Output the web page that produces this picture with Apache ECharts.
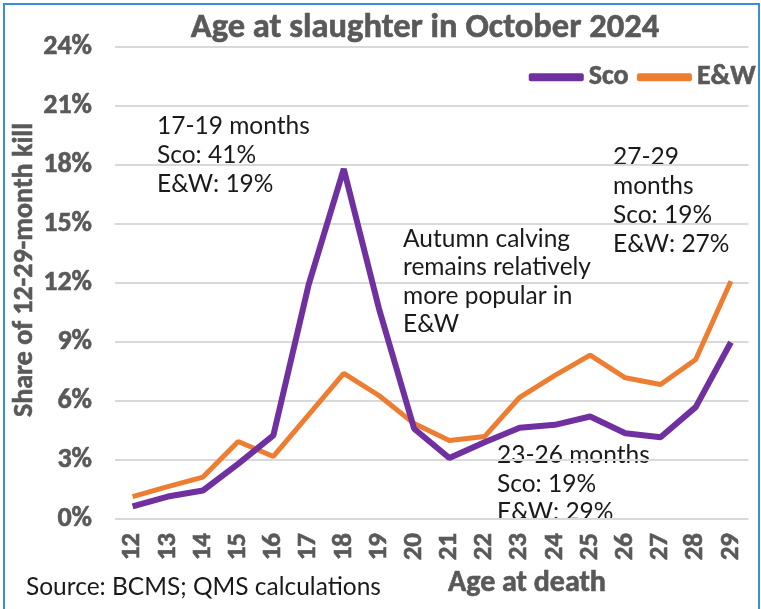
<!DOCTYPE html>
<html>
<head>
<meta charset="utf-8">
<title>Age at slaughter in October 2024</title>
<script src="https://cdn.jsdelivr.net/npm/echarts@6/dist/echarts.min.js"></script>
<style>
  html, body { margin: 0; padding: 0; background: #fff; }
  #chart { width: 761px; height: 609px; }
</style>
</head>
<body>
<div id="chart"></div>
<script>
// age at death (months)
const ages = ['12', '13', '14', '15', '16', '17', '18', '19', '20', '21', '22', '23', '24', '25', '26', '27', '28', '29'];

// share of 12-29-month kill, %
const scoShare = [0.64, 1.14, 1.45, 2.8, 4.25, 11.9, 17.8, 10.7, 4.59, 3.1, 3.9, 4.64, 4.79, 5.21, 4.36, 4.16, 5.69, 8.99];
const ewShare = [1.14, 1.65, 2.13, 3.94, 3.18, 5.3, 7.41, 6.28, 4.85, 3.99, 4.19, 6.19, 7.3, 8.33, 7.18, 6.84, 8.11, 12.09];

// y axis ticks: 0% .. 24% step 3
const yMin = 0;
const yMax = 24;
const yStep = 3;

// text boxes on the plot
const noteEarly = ['17-19 months', 'Sco: 41%', 'E&W: 19%'];
const noteAutumn = ['Autumn calving', 'remains relatively', 'more popular in', 'E&W'];
const noteLate = ['27-29', 'months', 'Sco: 19%', 'E&W: 27%'];
const noteMid = ['23-26 months', 'Sco: 19%', 'E&W: 29%'];

// Calibri-like for the chart furniture, rounder face for the notes
const HEAD = 'Carlito, Calibri, Lato, sans-serif';
const BODY = 'Lato, "Open Sans", sans-serif';
const GREY = '#595959';
// a thin outline in the same grey makes the bold a bit heavier, like the original
const heavy = { textBorderColor: GREY, textBorderWidth: 0.6 };

const chart = echarts.init(document.getElementById('chart'));

const note = (lines, x, y, lh) => ({
  type: 'text',
  left: x,
  top: y,
  style: {
    text: lines.join('\n'),
    font: '24.5px ' + BODY,
    fill: '#1a1a1a',
    lineHeight: lh
  }
});

const option = {
  animation: false,
  backgroundColor: '#fff',
  textStyle: { fontFamily: HEAD },
  grid: { left: 115, right: 12.5, top: 47, bottom: 90 },
  legend: {
    right: 5,
    top: 63,
    padding: 0,
    icon: 'roundRect',
    itemWidth: 55,
    itemHeight: 8,
    itemGap: 8,
    textStyle: Object.assign({ fontFamily: HEAD, fontWeight: 'bold', fontSize: 28, lineHeight: 28, color: GREY }, heavy),
    data: ['Sco', 'E&W']
  },
  xAxis: {
    type: 'category',
    data: ages,
    boundaryGap: true,
    axisLine: { show: false },
    axisTick: { show: false },
    axisLabel: Object.assign({
      rotate: 90,
      margin: 14,
      fontFamily: HEAD,
      fontWeight: 'bold',
      fontSize: 27,
      color: GREY
    }, heavy)
  },
  yAxis: {
    type: 'value',
    min: yMin,
    max: yMax,
    interval: yStep,
    axisLine: { show: false },
    axisTick: { show: false },
    splitLine: { lineStyle: { color: '#D9D9D9', width: 2 } },
    axisLabel: Object.assign({
      formatter: '{value}%',
      margin: 23,
      fontFamily: HEAD,
      fontWeight: 'bold',
      fontSize: 28,
      color: GREY
    }, heavy)
  },
  series: [
    {
      name: 'Sco',
      type: 'line',
      data: scoShare,
      showSymbol: false,
      symbol: 'none',
      lineStyle: { color: '#7030A0', width: 6 },
      itemStyle: { color: '#7030A0' },
      z: 3
    },
    {
      name: 'E&W',
      type: 'line',
      data: ewShare,
      showSymbol: false,
      symbol: 'none',
      lineStyle: { color: '#ED7D31', width: 5 },
      itemStyle: { color: '#ED7D31' },
      z: 2
    }
  ],
  graphic: [
    {
      type: 'rect',
      shape: { x: 4, y: 4, width: 755, height: 640 },
      style: { fill: 'none', stroke: '#3A8DDE', lineWidth: 2 },
      silent: true
    },
    {
      type: 'text',
      x: 425,
      y: 28.5,
      style: {
        text: 'Age at slaughter in October 2024',
        font: 'bold 34.5px ' + HEAD,
        fill: GREY,
        stroke: GREY,
        lineWidth: 0.6,
        textAlign: 'center',
        textVerticalAlign: 'middle'
      }
    },
    {
      type: 'text',
      x: 25,
      y: 270,
      rotation: Math.PI / 2,
      style: {
        text: 'Share of 12-29-month kill',
        font: 'bold 28px ' + HEAD,
        fill: GREY,
        stroke: GREY,
        lineWidth: 0.6,
        textAlign: 'center',
        textVerticalAlign: 'middle'
      }
    },
    {
      type: 'text',
      x: 527,
      y: 583,
      style: {
        text: 'Age at death',
        font: 'bold 30px ' + HEAD,
        fill: GREY,
        stroke: GREY,
        lineWidth: 0.6,
        textAlign: 'center',
        textVerticalAlign: 'middle'
      }
    },
    {
      type: 'text',
      x: 26,
      y: 587,
      style: {
        text: 'Source: BCMS; QMS calculations',
        font: '24.5px ' + BODY,
        fill: '#1a1a1a',
        textAlign: 'left',
        textVerticalAlign: 'middle'
      }
    },
    note(noteEarly, 157, 111.5, 29),
    note(noteAutumn, 403, 224.5, 28.5),
    note(noteLate, 613, 142.5, 29),
    note(noteMid, 497, 441, 28.5)
  ]
};

chart.setOption(option);
window.addEventListener('resize', () => chart.resize());
</script>
</body>
</html>
